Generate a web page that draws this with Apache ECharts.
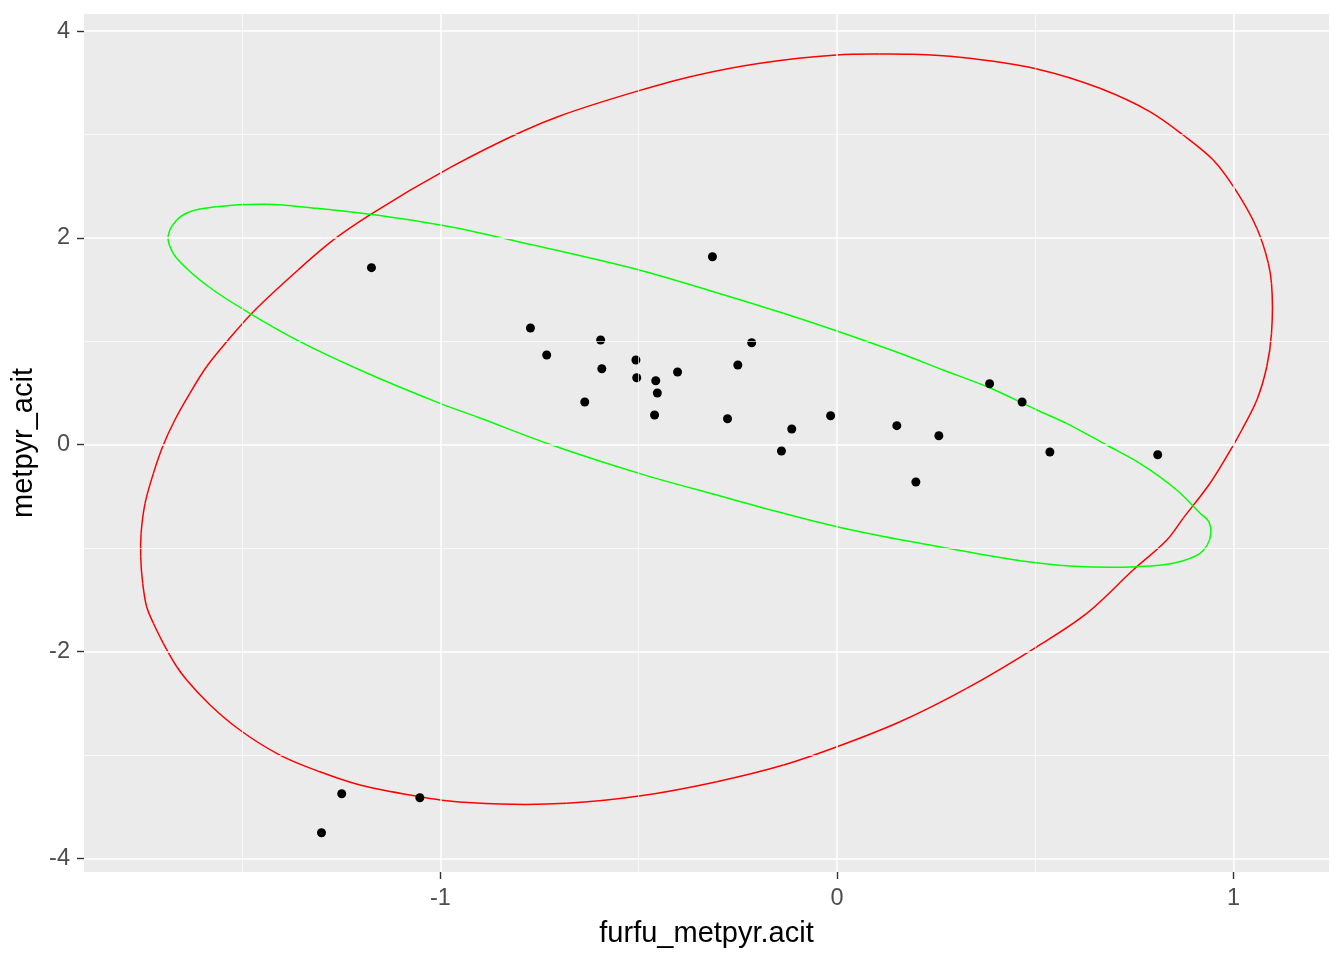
<!DOCTYPE html>
<html>
<head>
<meta charset="utf-8">
<script src="https://cdn.jsdelivr.net/npm/echarts@6/dist/echarts.min.js"></script>
<style>html,body{margin:0;padding:0;background:#fff}#c{width:1344px;height:960px}</style>
</head>
<body>
<div id="c"></div>
<script>
// Scatter points (furfu_metpyr.acit, metpyr_acit)
const pointX = [-1.174,-0.773,-0.732,-0.596,-0.593,-0.636,-0.507,-0.505,-0.457,-0.453,-0.460,-0.402,-0.314,-0.250,-0.215,-0.276,-0.016,-0.114,-0.140,0.151,0.199,0.257,0.385,0.467,0.537,0.809,-1.249,-1.300,-1.052];
const pointY = [1.712,1.129,0.868,1.013,0.735,0.413,0.819,0.648,0.619,0.500,0.287,0.703,1.818,0.771,0.986,0.251,0.280,0.152,-0.061,0.184,-0.361,0.087,0.590,0.413,-0.071,-0.097,-3.375,-3.752,-3.414];

// Red ellipse outline (closed loop)
const redX = [0.108,-0.001,-0.194,-0.362,-0.499,-0.699,-0.791,-0.976,-1.178,-1.270,-1.359,-1.472,-1.539,-1.590,-1.632,-1.670,-1.699,-1.724,-1.745,-1.755,-1.756,-1.751,-1.741,-1.724,-1.699,-1.665,-1.640,-1.581,-1.506,-1.405,-1.304,-1.203,-1.052,-0.984,-0.850,-0.682,-0.499,-0.303,-0.135,0.000,0.159,0.327,0.504,0.630,0.747,0.832,0.873,0.941,1.000,1.021,1.059,1.084,1.096,1.096,1.088,1.059,1.000,0.949,0.873,0.789,0.663,0.504,0.310,0.192,0.108];
const redY = [3.779,3.769,3.689,3.566,3.424,3.179,3.034,2.679,2.222,1.980,1.690,1.286,0.996,0.754,0.497,0.239,-0.003,-0.277,-0.567,-0.857,-1.083,-1.340,-1.567,-1.727,-1.921,-2.147,-2.276,-2.517,-2.759,-3.001,-3.163,-3.291,-3.404,-3.443,-3.475,-3.468,-3.398,-3.259,-3.098,-2.921,-2.679,-2.356,-1.954,-1.631,-1.212,-0.922,-0.712,-0.373,-0.003,0.142,0.432,0.754,1.077,1.561,1.754,2.093,2.495,2.753,2.995,3.221,3.447,3.634,3.747,3.776,3.779];

// Green ellipse outline (closed loop)
const greenX = [-0.976,-1.178,-1.312,-1.438,-1.564,-1.632,-1.665,-1.687,-1.674,-1.636,-1.573,-1.481,-1.354,-1.203,-1.001,-0.900,-0.732,-0.499,-0.303,-0.135,0.000,0.108,0.277,0.462,0.588,0.756,0.848,0.916,0.934,0.943,0.937,0.916,0.857,0.764,0.680,0.579,0.504,0.385,0.268,0.159,0.000,-0.135,-0.303,-0.499,-0.766,-0.976];
const greenY = [2.108,2.228,2.286,2.325,2.302,2.253,2.173,2.012,1.851,1.690,1.496,1.271,0.996,0.722,0.400,0.258,0.014,-0.277,-0.487,-0.663,-0.793,-0.880,-0.999,-1.122,-1.173,-1.180,-1.147,-1.050,-0.970,-0.854,-0.738,-0.663,-0.438,-0.180,-0.003,0.207,0.336,0.551,0.722,0.884,1.100,1.271,1.470,1.690,1.931,2.108];

// Axis ticks
const xTicks = [-1, 0, 1];
const yTicks = [-4, -2, 0, 2, 4];
const xMinor = [-1.5, -0.5, 0.5];
const yMinor = [-3, -1, 1, 3];
const xRange = [-1.899, 1.241];
const yRange = [-4.132, 4.165];

const zip = (a, b) => a.map((v, i) => [v, b[i]]);
const font = 'Liberation Sans, Arial, sans-serif';

const gridLines = [];
xMinor.forEach(v => gridLines.push({xAxis: v, lineStyle: {width: 0.7}}));
yMinor.forEach(v => gridLines.push({yAxis: v, lineStyle: {width: 0.7}}));
xTicks.forEach(v => gridLines.push({xAxis: v, lineStyle: {width: 1.5}}));
yTicks.forEach(v => gridLines.push({yAxis: v, lineStyle: {width: 1.5}}));

// Closed smooth outline: each data item draws the segment to the next point
// (centripetal Catmull-Rom rendered as cubic Bezier, in pixel space via api.coord)
function loopSeries(xs, ys, color) {
  const n = xs.length - 1; // last point repeats the first
  const data = zip(xs.slice(0, n), ys.slice(0, n));
  return {
    type: 'custom', coordinateSystem: 'cartesian2d', z: 3, silent: true,
    encode: {x: 0, y: 1},
    data: data,
    renderItem: function (params, api) {
      const i = params.dataIndex;
      const P = k => api.coord(data[((k % n) + n) % n]);
      const p0 = P(i - 1), p1 = P(i), p2 = P(i + 1), p3 = P(i + 2);
      const d = (a, b) => Math.sqrt(Math.hypot(b[0] - a[0], b[1] - a[1])) || 1e-6;
      const d1 = d(p0, p1), d2 = d(p1, p2), d3 = d(p2, p3);
      const c1 = [0, 1].map(j => (d1 * d1 * p2[j] - d2 * d2 * p0[j] + (2 * d1 * d1 + 3 * d1 * d2 + d2 * d2) * p1[j]) / (3 * d1 * (d1 + d2)));
      const c2 = [0, 1].map(j => (d3 * d3 * p1[j] - d2 * d2 * p3[j] + (2 * d3 * d3 + 3 * d3 * d2 + d2 * d2) * p2[j]) / (3 * d3 * (d3 + d2)));
      return {
        type: 'bezierCurve',
        shape: {x1: p1[0], y1: p1[1], cpx1: c1[0], cpy1: c1[1], cpx2: c2[0], cpy2: c2[1], x2: p2[0], y2: p2[1]},
        style: {stroke: color, fill: null, lineWidth: 1.5}
      };
    }
  };
}

const chart = echarts.init(document.getElementById('c'), null, {renderer: 'canvas'});
chart.setOption({
  animation: false,
  backgroundColor: '#ffffff',
  grid: {left: 84, top: 14, width: 1245, height: 858, show: true, backgroundColor: '#EBEBEB', borderWidth: 0},
  xAxis: {
    type: 'value', min: xRange[0], max: xRange[1],
    name: 'furfu_metpyr.acit', nameLocation: 'middle', nameGap: 47,
    nameTextStyle: {color: '#000', fontSize: 29, fontFamily: font},
    axisLine: {show: false, onZero: false},
    axisTick: {show: true, customValues: xTicks, length: 7, lineStyle: {color: '#333333', width: 1.4}},
    axisLabel: {customValues: xTicks, color: '#4D4D4D', fontSize: 23.5, fontFamily: font, margin: 15},
    splitLine: {show: false}
  },
  yAxis: {
    type: 'value', min: yRange[0], max: yRange[1],
    name: 'metpyr_acit', nameLocation: 'middle', nameGap: 54, nameRotate: 90,
    nameTextStyle: {color: '#000', fontSize: 29, fontFamily: font, align: 'center', verticalAlign: 'middle'},
    axisLine: {show: false, onZero: false},
    axisTick: {show: true, customValues: yTicks, length: 7, lineStyle: {color: '#333333', width: 1.4}},
    axisLabel: {customValues: yTicks, color: '#4D4D4D', fontSize: 23.5, fontFamily: font, margin: 14},
    splitLine: {show: false}
  },
  series: [
    {
      type: 'line', data: [], z: 1, silent: true,
      markLine: {silent: true, symbol: ['none', 'none'], label: {show: false},
        lineStyle: {color: '#ffffff', type: 'solid', width: 1.5}, data: gridLines}
    },
    loopSeries(redX, redY, '#FF0000'),
    loopSeries(greenX, greenY, '#00FF00'),
    {
      type: 'scatter', data: zip(pointX, pointY), z: 4, symbolSize: 9,
      itemStyle: {color: '#000000', opacity: 1}
    }
  ]
});
</script>
</body>
</html>
